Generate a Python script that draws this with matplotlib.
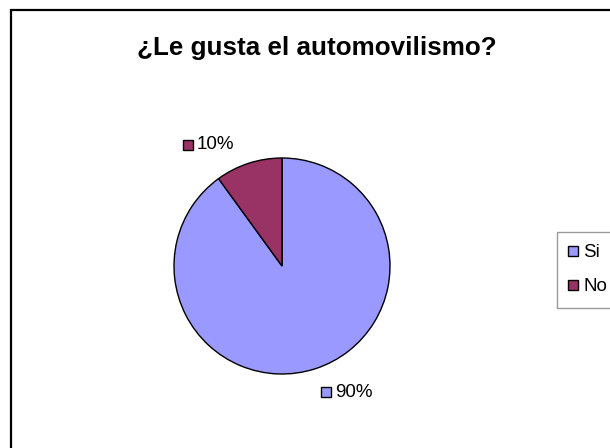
import matplotlib.pyplot as plt
import matplotlib.patches as patches
from matplotlib.lines import Line2D

plt.rcParams['font.family'] = ['Liberation Sans', 'DejaVu Sans']

# encuesta: le gusta el automovilismo
categorias = ['Si', 'No']
porcentajes = [90, 10]
colores = ['#9999FF', '#993366']
titulo = '¿Le gusta el automovilismo?'

W, H = 610, 448
fig = plt.figure(figsize=(W / 100, H / 100), dpi=100)

# marco del grafico (se sale por la derecha y abajo)
marco = patches.Rectangle((11 / W, -0.1), 1.2, 1.1 - 10 / H,
                          transform=fig.transFigure, fill=False,
                          edgecolor='black', linewidth=1.6)
fig.patches.append(marco)

fig.text(317 / W, 1 - 48 / H, titulo, ha='center', va='center',
         fontsize=18.7, fontweight='bold')

# pastel: centro (282, 266), radio 108 px
cx, cy, r = 282, 266, 108
ax = fig.add_axes([(cx - r) / W, (H - cy - r) / H, 2 * r / W, 2 * r / H])
ax.pie(porcentajes, colors=colores, startangle=90, counterclock=False,
       radius=1, wedgeprops=dict(edgecolor='black', linewidth=1.0))
ax.set_xlim(-1, 1)
ax.set_ylim(-1, 1)
ax.set_aspect('equal')
ax.axis('off')

# etiquetas de datos con su cuadrito de color
pos_etiquetas = [(326, 392), (188, 145)]
for (px, py), val, col in zip(pos_etiquetas, porcentajes, colores):
    x = (px - cx) / r
    y = (cy - py) / r
    ax.plot(x, y, marker='s', ms=6.5, mfc=col, mec='black', mew=1.0,
            clip_on=False)
    ax.text(x + 9 / r, y, f'{val}%', ha='left', va='center',
            fontsize=13.5, clip_on=False)

# leyenda
handles = [Line2D([], [], linestyle='none', marker='s', ms=6.5, mfc=c,
                  mec='black', mew=1.0) for c in colores]
leg = fig.legend(handles, categorias, loc='upper left',
                 bbox_to_anchor=(557 / W, 1 - 232 / H), borderaxespad=0,
                 fontsize=13.5, frameon=True, fancybox=False,
                 handlelength=0.4, handletextpad=0.35, borderpad=0.65,
                 labelspacing=0.9)
leg.get_frame().set_edgecolor('#808080')
leg.get_frame().set_linewidth(1.0)

fig.savefig('out.png', dpi=100)
